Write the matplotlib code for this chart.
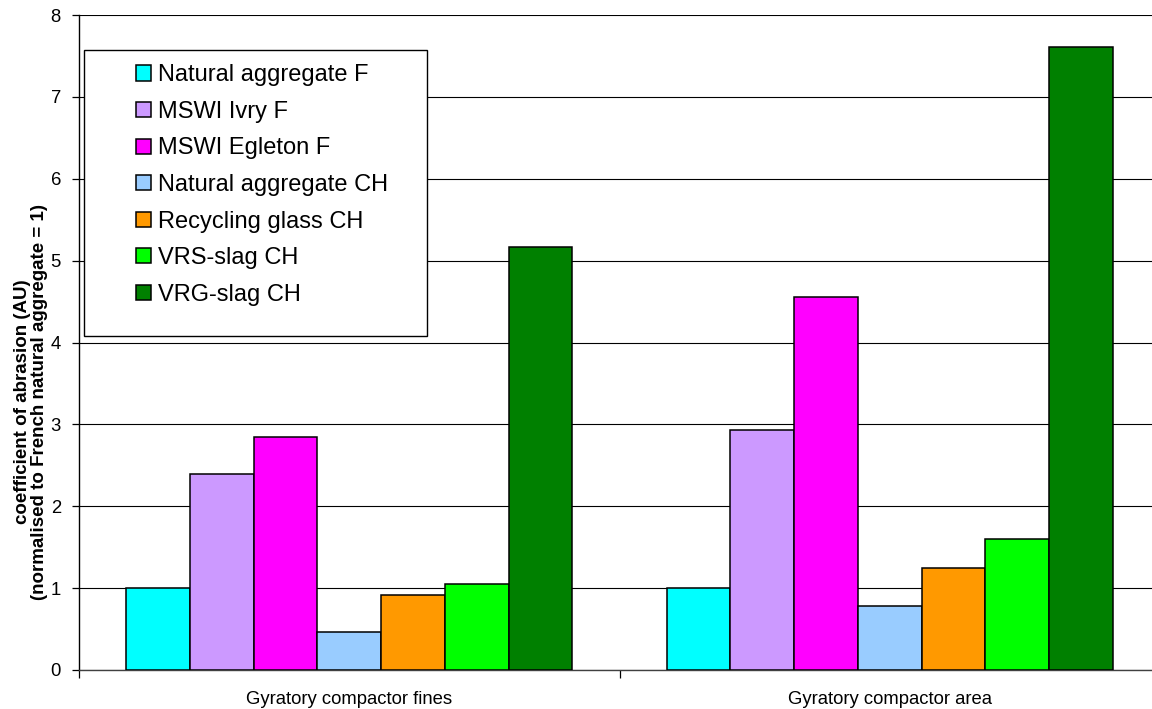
import matplotlib
matplotlib.use("Agg")
import matplotlib.pyplot as plt
from matplotlib.patches import Rectangle
import numpy as np

plt.rcParams['font.family'] = ['Liberation Sans', 'DejaVu Sans']

categories = ["Gyratory compactor fines", "Gyratory compactor area"]
series_names = [
    "Natural aggregate F",
    "MSWI Ivry F",
    "MSWI Egleton F",
    "Natural aggregate CH",
    "Recycling glass CH",
    "VRS-slag CH",
    "VRG-slag CH",
]
natural_f = [1.00, 1.00]
mswi_ivry_f = [2.39, 2.93]
mswi_egleton_f = [2.85, 4.55]
natural_ch = [0.46, 0.78]
recycling_glass_ch = [0.92, 1.25]
vrs_slag_ch = [1.05, 1.60]
vrg_slag_ch = [5.17, 7.61]
series_values = [natural_f, mswi_ivry_f, mswi_egleton_f, natural_ch,
                 recycling_glass_ch, vrs_slag_ch, vrg_slag_ch]
colors = ["#00FFFF", "#CC99FF", "#FF00FF", "#99CCFF", "#FF9900", "#00FF00", "#008000"]
y_ticks = [0, 1, 2, 3, 4, 5, 6, 7, 8]

W, H = 1152, 709
fig = plt.figure(figsize=(W / 100, H / 100), dpi=100)
ax = fig.add_axes([79 / W, 39 / H, 1081 / W, 655 / H])

x = np.arange(len(categories))
bar_w = 0.118
handles = []
for i, (name, vals, col) in enumerate(zip(series_names, series_values, colors)):
    b = ax.bar(x + (i - 3) * bar_w, vals, width=bar_w, color=col,
               edgecolor="black", linewidth=1.1, zorder=3, label=name)
    handles.append(b)

ax.set_xlim(-0.5, len(categories) - 0.5)
ax.set_ylim(0, 8)
ax.set_yticks(y_ticks)
ax.set_yticklabels([str(t) for t in y_ticks], fontsize=13.3)
ax.yaxis.grid(True, color="black", linewidth=0.8, zorder=0)
ax.set_axisbelow(True)

# category boundaries get the tick marks, labels sit at the centres
ax.set_xticks(np.arange(-0.5, len(categories), 1.0))
ax.set_xticklabels([])
ax.set_xticks(x, minor=True)
ax.set_xticklabels(categories, minor=True, fontsize=13.3)
ax.tick_params(axis="x", which="major", direction="out", length=6, width=0.9)
ax.tick_params(axis="x", which="minor", length=0, pad=15)
ax.tick_params(axis="y", direction="out", length=5, width=0.9, pad=8)

for side in ("top", "right"):
    ax.spines[side].set_visible(False)
ax.spines["left"].set_linewidth(1.0)
ax.spines["bottom"].set_linewidth(1.0)
ax.spines["bottom"].set_color("#404040")

fig.text(31 / W, 1 - 402 / H,
         "coefficient of abrasion (AU)\n(normalised to French natural aggregate = 1)",
         rotation=90, ha="center", va="center", fontsize=13.5, fontweight="bold",
         linespacing=1.05)

# legend box
fig.patches.append(Rectangle((84 / W, 1 - 336 / H), (427 - 84) / W, (336 - 50) / H,
                             transform=fig.transFigure, facecolor="white",
                             edgecolor="black", linewidth=1.0, zorder=4))
fig.legend(handles=handles, loc="upper left",
           bbox_to_anchor=(127 / W, 1 - 55 / H), frameon=False,
           fontsize=17, handlelength=0.62, handleheight=0.62,
           handletextpad=0.3, labelspacing=0.615, borderaxespad=0)

fig.savefig("out.png", dpi=100)
